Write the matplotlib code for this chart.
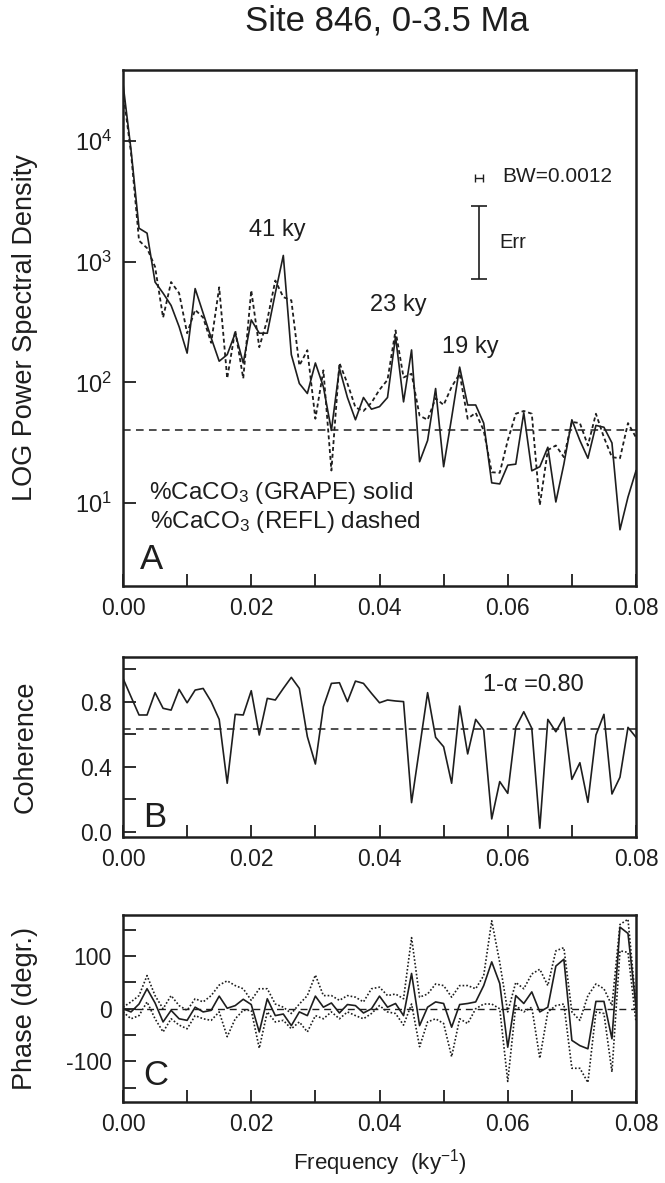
import numpy as np
import matplotlib
matplotlib.use('Agg')
import matplotlib.pyplot as plt
from matplotlib.ticker import FixedLocator, NullLocator, LogFormatterSciNotation

plt.rcParams['font.family'] = ['Liberation Sans', 'DejaVu Sans']
plt.rcParams['mathtext.fontset'] = 'custom'
plt.rcParams['mathtext.rm'] = 'Liberation Sans'
plt.rcParams['mathtext.it'] = 'Liberation Sans:italic'

# frequency grid (ky^-1), 65 estimates from 0 to 0.08
freq = np.linspace(0.0, 0.08, 65)

# A: power spectra, %CaCO3 from GRAPE (solid) and from reflectance (dashed)
psd_grape = [30000, 8500, 1900, 1730, 680, 550, 435, 290, 175, 600,
             375, 234, 150, 170, 256, 145, 330, 256, 256, 550,
             1130, 170, 98, 81, 145, 92, 40, 131, 75, 49,
             75, 60, 63, 75, 240, 69, 186, 22, 33, 89,
             20, 51, 134, 65, 65, 46, 14.7, 14.4, 20.6, 21,
             56, 18.5, 20, 29, 10.2, 21, 49, 33, 23.5, 44,
             42.5, 31.5, 6.0, 11.2, 18.5]
psd_refl = [26000, 8000, 1500, 1300, 910, 345, 680, 550, 256, 400,
            345, 213, 615, 108, 270, 108, 580, 196, 330, 700,
            510, 480, 138, 185, 50, 126, 18.6, 145, 98, 62,
            58, 68, 87, 105, 270, 110, 118, 53, 49, 74,
            65, 92, 118, 50, 56, 40, 18, 17.8, 33, 55,
            58, 55, 9.6, 27.5, 30, 24, 47, 46, 30, 55,
            35, 24, 23.5, 46, 35]
psd_level = 40

# B: coherence
coherence = [0.943, 0.830, 0.718, 0.718, 0.855, 0.759, 0.748, 0.875, 0.793, 0.871,
             0.881, 0.800, 0.691, 0.299, 0.722, 0.718, 0.867, 0.595, 0.820, 0.810,
             0.881, 0.949, 0.881, 0.585, 0.417, 0.769, 0.912, 0.916, 0.800, 0.926,
             0.912, 0.851, 0.793, 0.810, 0.804, 0.800, 0.180, 0.517, 0.855, 0.581,
             0.523, 0.299, 0.773, 0.479, 0.691, 0.626, 0.080, 0.309, 0.237, 0.642,
             0.738, 0.636, 0.023, 0.691, 0.615, 0.703, 0.323, 0.425, 0.182, 0.595,
             0.722, 0.233, 0.336, 0.642, 0.581]
coh_level = 0.63

# C: phase and its confidence band
phase = [0, -6, 9, 38, 11, -25, -3, -19, -22, 3,
         -6, -3, 24, 1, 6, 18, 8, -44, 19, -13,
         -10, -32, -6, -13, 24, 3, 11, -8, 8, 6,
         -8, 0, 24, 3, 10, -13, 67, -32, 3, 13,
         10, -35, 8, 10, 13, 44, 89, 48, -73, 25,
         10, 32, -6, 3, 81, 94, -60, -70, -76, 14,
         14, -57, 155, 143, 3]
phase_hi = [3, 13, 25, 63, 25, 0, 25, 6, -3, 19,
            13, 25, 45, 53, 44, 38, 16, 38, 38, 9,
            3, -9, 9, 25, 64, 25, 25, 16, 25, 22,
            13, 38, 41, 25, 28, 19, 135, 22, 28, 47,
            44, 22, 44, 44, 38, 63, 167, 88, -6, 50,
            38, 66, 75, 44, 110, 116, -6, -22, 25, 47,
            38, 6, 160, 170, 6]
phase_lo = [-6, -19, -13, 13, -19, -44, -19, -31, -38, -13,
            -19, -22, -6, -53, -19, -3, -3, -75, -6, -25,
            -22, -38, -25, -44, -13, -19, -6, -19, -6, -13,
            -19, -9, 6, -6, -9, -31, 9, -72, -25, -19,
            -28, -91, -19, -28, 0, 9, 9, 0, -138, 6,
            -6, 3, -94, -6, 6, 9, -113, -113, -140, -6,
            -9, -120, 110, 107, -25]

# bandwidth and error bar shown in panel A
bw = 0.0012
bw_x = 0.0555
bw_y = 5000
err_lo, err_hi = 718, 2890

xticks = [0.00, 0.01, 0.02, 0.03, 0.04, 0.05, 0.06, 0.07, 0.08]
xlabels = ['0.00', '', '0.02', '', '0.04', '', '0.06', '', '0.08']

ink = '#1e1e1e'
W, H = 665, 1183


def frame(ax):
    for s in ax.spines.values():
        s.set_linewidth(1.8)
        s.set_color(ink)
    ax.tick_params(direction='in', length=9, width=1.3, colors=ink,
                   labelsize=16.5, pad=8, top=False, right=False)
    ax.set_xlim(0, 0.08)
    ax.xaxis.set_major_locator(FixedLocator(xticks))
    ax.set_xticklabels(xlabels)


fig = plt.figure(figsize=(W / 100, H / 100), dpi=100)

# --- panel A
axA = fig.add_axes([123 / W, 1 - 586 / H, 513 / W, 516 / H])
axA.set_yscale('log')
axA.plot(freq, psd_grape, color=ink, lw=1.2)
axA.plot(freq, psd_refl, color=ink, lw=1.3, ls=(0, (2.2, 1.6)))
axA.axhline(psd_level, color=ink, lw=1.1, ls=(0, (5, 3.5)))
axA.set_ylim(2.05, 39000)
frame(axA)
axA.yaxis.set_major_locator(FixedLocator([10, 100, 1000, 10000]))
axA.yaxis.set_major_formatter(LogFormatterSciNotation())
axA.yaxis.set_minor_locator(NullLocator())
axA.tick_params(axis='y', labelsize=17)
axA.set_ylabel('LOG Power Spectral Density', fontsize=19.5, color=ink)
axA.yaxis.set_label_coords(-0.165, 0.5)

axA.errorbar([bw_x], [bw_y], xerr=[bw / 2], fmt='none', ecolor=ink,
             elinewidth=1.0, capsize=3, capthick=1.0)
axA.errorbar([bw_x], [np.sqrt(err_lo * err_hi)],
             yerr=[[np.sqrt(err_lo * err_hi) - err_lo], [err_hi - np.sqrt(err_lo * err_hi)]],
             fmt='none', ecolor=ink, elinewidth=1.2, capsize=6, capthick=1.2)
axA.text(0.739, 0.793, 'BW=0.0012', transform=axA.transAxes, fontsize=15,
         va='center', color=ink)
axA.text(0.733, 0.665, 'Err', transform=axA.transAxes, fontsize=14.5,
         va='center', color=ink)
axA.text(0.300, 0.690, '41 ky', transform=axA.transAxes, fontsize=17,
         ha='center', va='center', color=ink)
axA.text(0.536, 0.545, '23 ky', transform=axA.transAxes, fontsize=17,
         ha='center', va='center', color=ink)
axA.text(0.677, 0.463, '19 ky', transform=axA.transAxes, fontsize=17,
         ha='center', va='center', color=ink)
axA.text(0.051, 0.180, r'%CaCO$_3$ (GRAPE) solid', transform=axA.transAxes,
         fontsize=17.5, va='center', color=ink)
axA.text(0.053, 0.124, r'%CaCO$_3$ (REFL) dashed', transform=axA.transAxes,
         fontsize=17.5, va='center', color=ink)
axA.text(0.033, 0.052, 'A', transform=axA.transAxes, fontsize=25,
         va='center', color=ink)

# --- panel B
axB = fig.add_axes([123 / W, 1 - 837 / H, 513 / W, 180 / H])
axB.plot(freq, coherence, color=ink, lw=1.2)
axB.axhline(coh_level, color=ink, lw=1.1, ls=(0, (5, 3.5)))
axB.set_ylim(-0.031, 1.074)
frame(axB)
axB.yaxis.set_major_locator(FixedLocator([0.0, 0.2, 0.4, 0.6, 0.8, 1.0]))
axB.set_yticklabels(['0.0', '', '0.4', '', '0.8', ''])
axB.set_ylabel('Coherence', fontsize=19.5, color=ink)
axB.yaxis.set_label_coords(-0.165, 0.5)
axB.text(0.702, 0.844, '1-α =0.80', transform=axB.transAxes, fontsize=17,
         va='center', color=ink)
axB.text(0.039, 0.11, 'B', transform=axB.transAxes, fontsize=25,
         va='center', color=ink)

# --- panel C
axC = fig.add_axes([123 / W, 1 - 1102 / H, 513 / W, 187 / H])
axC.plot(freq, phase_hi, color=ink, lw=1.2, ls=(0, (1, 1.2)))
axC.plot(freq, phase_lo, color=ink, lw=1.2, ls=(0, (1, 1.2)))
axC.plot(freq, phase, color=ink, lw=1.2)
axC.axhline(0, color=ink, lw=1.0, ls=(0, (5, 3.5)))
axC.set_ylim(-177, 178)
frame(axC)
axC.yaxis.set_major_locator(FixedLocator([-150, -100, -50, 0, 50, 100, 150]))
axC.set_yticklabels(['', '-100', '', '0', '', '100', ''])
axC.set_ylabel('Phase (degr.)', fontsize=19.5, color=ink)
axC.yaxis.set_label_coords(-0.165, 0.5)
axC.text(0.039, 0.144, 'C', transform=axC.transAxes, fontsize=25,
         va='center', color=ink)
axC.set_xlabel('Frequency  (ky$^{-1}$)', fontsize=16, color=ink, labelpad=8)

fig.text(387 / W, 1 - 21 / H, 'Site 846, 0-3.5 Ma', fontsize=25,
         ha='center', va='center', color=ink)

fig.savefig('out.png', dpi=100)
